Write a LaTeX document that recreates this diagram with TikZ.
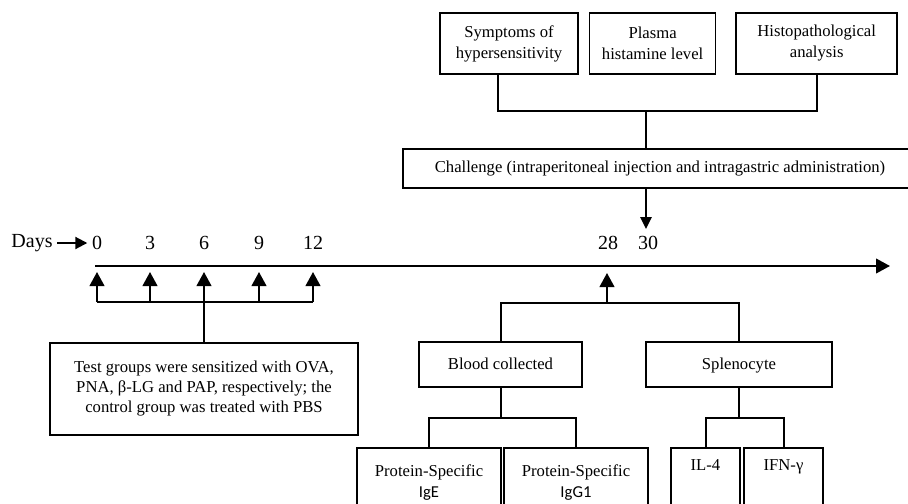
\documentclass[tikz,border=0pt]{standalone}
\usepackage{fontspec}
\setmainfont{Liberation Serif}
\newfontfamily\calfont{Carlito}
\usetikzlibrary{positioning,arrows.meta}

\begin{document}
\begin{tikzpicture}[x=0.75pt, y=-0.75pt,
    font=\fontsize{12.5}{15.75}\selectfont,
    box/.style={draw, line width=1.2pt, align=center, inner sep=2pt},
    link/.style={line width=1.5pt},
    arrow/.style={link, -{Triangle[width=11pt,length=10.5pt]}},
    day/.style={font=\fontsize{15}{18}\selectfont}]
    \useasboundingbox (0,0) rectangle (908,504);
    \clip (0,0) rectangle (908,504);

    % outcome boxes
    \node [box, minimum width=103.5pt, minimum height=45.75pt] (sym) at (509,43.5) {Symptoms of\\hypersensitivity};
    \node [box, minimum width=94.5pt, minimum height=45.75pt, right=7.5pt of sym] (plasma) {Plasma\\histamine level};
    \node [box, minimum width=120.75pt, minimum height=45.75pt, right=14.25pt of plasma] (histo) {Histopathological\\analysis};
    \node [box, minimum width=385.5pt, minimum height=29pt] (chal) at (660,168.5) {Challenge (intraperitoneal injection and intragastric administration)};

    \coordinate (join) at (646,111);
    \draw [link] ([xshift=-8.25pt]sym.south) |- (join) -| (histo.south);
    \draw [link] (join) -- (join |- chal.north);

    % time line
    \node [day] (days) at (32,243) {Days};
    \foreach \d/\x in {0/97, 3/150, 6/204, 9/259, 12/313, 28/608, 30/648}
      \node [day] (d\d) at (\x,243) {\d};
    \draw [link, -{Triangle[width=9pt,length=9pt]}] (days.east) -- (d0.west);
    \coordinate (tl0) at (95,266);
    \coordinate (tlend) at (890,266);
    \draw [arrow] (tl0) -- (tlend);
    \coordinate (chal30) at (646,229);
    \draw [link, -{Triangle[width=8.5pt,length=9pt]}] (chal.south -| chal30) -- (chal30);

    % sensitization
    \coordinate (sens) at (204,302);
    \foreach \d in {0,3,6,9,12}
      \draw [arrow] (d\d |- sens) -- ++(0,-30);
    \draw [link] (d0 |- sens) -- (d12 |- sens);
    \node [box, minimum width=231pt, minimum height=69pt, font=\fontsize{12.5}{15}\selectfont] (test) at (204,389) {Test groups were sensitized with OVA,\\PNA, β-LG and PAP, respectively; the\\control group was treated with PBS};
    \draw [link] (sens) -- (test.north);

    % sampling
    \coordinate (coll) at (607,303);
    \draw [arrow] (coll) -- ++(0,-30);
    \node [box, minimum width=122pt, minimum height=34pt, text height=10pt, text depth=2pt] (blood) at (500.5,364.5) {Blood collected};
    \node [box, minimum width=139.5pt, minimum height=34pt, text height=10pt, text depth=2pt] (spleno) at (739,364.5) {Splenocyte};
    \draw [link] (blood.north) |- (spleno.north |- coll) -- (spleno.north);

    \node [box, anchor=north, minimum width=108pt, minimum height=52.5pt] (ige) at (429,447) {Protein-Specific\\{\calfont IgE}};
    \node [box, anchor=north, minimum width=108pt, minimum height=52.5pt] (igg) at (576,447) {Protein-Specific\\{\calfont IgG1}};
    \node [box, anchor=north, minimum width=52pt, text height=15pt, text depth=40pt] (il4) at (705.5,447) {IL-4};
    \node [box, anchor=north, minimum width=59pt, text height=15pt, text depth=40pt] (ifn) at (783.5,447) {IFN-γ};

    \coordinate (bsplit) at ([yshift=-22.5pt]blood.south);
    \coordinate (ssplit) at ([yshift=-22.5pt]spleno.south);
    \draw [link] (blood.south) -- (bsplit);
    \draw [link] (ige.north) |- (bsplit) -| (igg.north);
    \draw [link] (spleno.south) -- (ssplit);
    \draw [link] (il4.north) |- (ssplit) -| (ifn.north);
\end{tikzpicture}
\end{document}
